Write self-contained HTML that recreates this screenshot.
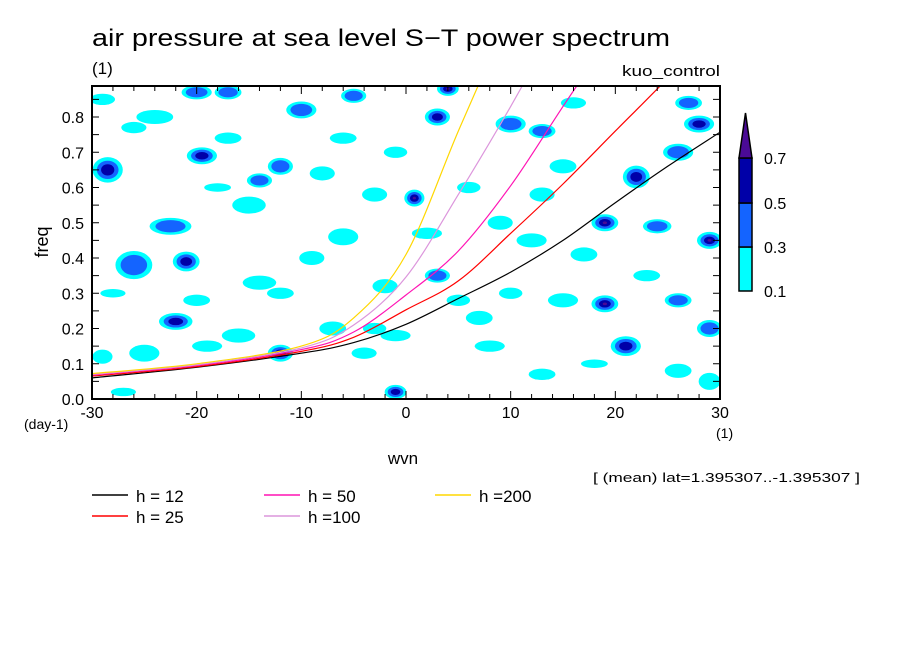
<!DOCTYPE html>
<html><head><meta charset="utf-8"><style>
body{margin:0;background:#fff;}
svg{display:block;font-family:"Liberation Sans",sans-serif;}
</style></head><body>
<svg id="chart" width="904" height="654" viewBox="0 0 904 654">
<rect x="0" y="0" width="904" height="654" fill="#fff"/>
<text x="92" y="46" font-size="24" textLength="578" lengthAdjust="spacingAndGlyphs">air pressure at sea level S−T power spectrum</text>
<text x="92" y="74" font-size="17">(1)</text>
<text x="720" y="76" font-size="15" text-anchor="end" textLength="98" lengthAdjust="spacingAndGlyphs">kuo_control</text>
<defs><clipPath id="pc"><rect x="92" y="86" width="628" height="313"/></clipPath></defs>
<g id="blobs" clip-path="url(#pc)"></g>
<g id="curves" clip-path="url(#pc)"></g>
<rect x="92" y="86" width="628" height="313" fill="none" stroke="#000" stroke-width="2"/>
<g id="axes"></g>
<text transform="translate(48,242) rotate(-90)" font-size="18" text-anchor="middle">freq</text>
<text x="403" y="464" font-size="17" text-anchor="middle">wvn</text>
<text x="24" y="429" font-size="14">(day-1)</text>
<text x="716" y="438" font-size="14">(1)</text>
<text x="593" y="482" font-size="13" textLength="267" lengthAdjust="spacingAndGlyphs">[ (mean) lat=1.395307..-1.395307 ]</text>
<g id="colorbar"></g>
<g id="legend"></g>
</svg>
<script>
const xTicks=[-30,-20,-10,0,10,20,30];
const yTicks=[0,0.1,0.2,0.3,0.4,0.5,0.6,0.7,0.8];
const levels=[0.1,0.3,0.5,0.7];
const levelColors=['#00ffff','#1464ff','#0000a8','#4a0a96'];
const curveWvn=[-30,-20,-10,-5,0,5,10,15,20,25,30];
const h12=[0.06,0.09,0.13,0.16,0.212,0.285,0.36,0.45,0.557,0.66,0.757];
const h25=[0.065,0.092,0.135,0.175,0.253,0.335,0.47,0.61,0.76,0.91,1.07];
const h50=[0.068,0.095,0.14,0.19,0.295,0.42,0.605,0.83,1.05,1.28,1.5];
const h100=[0.07,0.097,0.145,0.21,0.346,0.58,0.83,1.1,1.38,1.66,1.95];
const h200=[0.072,0.1,0.15,0.23,0.41,0.76,1.1,1.45,1.8,2.15,2.5];
const curveNames=['h = 12','h = 25','h = 50','h =100','h =200'];
const curveColors=['#000000','#ff0000','#ff14b4','#dc96dc','#ffd700'];
const blobWvn=[-28.5,-26,-21,-22.5,-19.5,-22,-17,-20,-12,-10,-12,-14,-24,-26,-15,-5,-8,-3,-6,-9,-2,-14,-16,-25,-29,-4,-7,-3,0.8,-1,3,4,2,3,7,10,13,13,15,8,12,9,5,22,26,28,27,19,24,29,19,26,21,29,17,13,15,23,26,29,-1,-12,-19,-28,-27,-20,16,-1,-17,-6,-29,-18,6,18,10];
const blobFreq=[0.65,0.38,0.39,0.49,0.69,0.22,0.87,0.87,0.66,0.82,0.13,0.62,0.80,0.77,0.55,0.86,0.64,0.58,0.46,0.40,0.32,0.33,0.18,0.13,0.12,0.13,0.20,0.20,0.57,0.02,0.80,0.88,0.47,0.35,0.23,0.78,0.76,0.58,0.66,0.15,0.45,0.50,0.28,0.63,0.70,0.78,0.84,0.50,0.49,0.45,0.27,0.28,0.15,0.20,0.41,0.07,0.28,0.35,0.08,0.05,0.18,0.30,0.15,0.30,0.02,0.28,0.84,0.70,0.74,0.74,0.85,0.60,0.60,0.10,0.30];
const blobRw=[1.8,2.2,1.6,2.5,1.8,2.0,1.6,1.8,1.5,1.8,1.5,1.5,2.2,1.5,2.0,1.5,1.5,1.5,1.8,1.5,1.5,2.0,2.0,1.8,1.2,1.5,1.6,1.4,1.2,1.3,1.5,1.3,1.8,1.5,1.6,1.8,1.6,1.5,1.6,1.8,1.8,1.5,1.4,1.6,1.8,1.8,1.6,1.6,1.7,1.5,1.6,1.6,1.8,1.5,1.6,1.6,1.8,1.6,1.6,1.3,1.8,1.6,1.8,1.5,1.5,1.6,1.5,1.4,1.6,1.6,1.5,1.6,1.4,1.6,1.4];
const blobRf=[0.045,0.05,0.035,0.03,0.03,0.03,0.025,0.025,0.03,0.03,0.03,0.025,0.025,0.02,0.03,0.025,0.025,0.025,0.03,0.025,0.025,0.025,0.025,0.03,0.025,0.02,0.025,0.02,0.03,0.025,0.03,0.025,0.02,0.025,0.025,0.03,0.025,0.025,0.025,0.02,0.025,0.025,0.02,0.04,0.03,0.03,0.025,0.03,0.025,0.03,0.03,0.025,0.035,0.03,0.025,0.02,0.025,0.02,0.025,0.03,0.02,0.02,0.02,0.015,0.015,0.02,0.02,0.02,0.02,0.02,0.02,0.015,0.02,0.015,0.02];
const blobLvl=[2,1,2,1,2,2,1,1,1,1,3,1,0,0,0,1,0,0,0,0,0,0,0,0,0,0,0,0,3,2,2,3,0,1,0,1,1,0,0,0,0,0,0,2,1,2,1,3,1,3,3,1,2,1,0,0,0,0,0,0,0,0,0,0,0,0,0,0,0,0,0,0,0,0,0];

const X0=92,X1=720,Y0=399,PY=352.5;
const sx=v=>X0+(v+30)*(X1-X0)/60;
const sy=v=>Y0-v*PY;
const ns='http://www.w3.org/2000/svg';
function mk(tag,parent,attrs){const e=document.createElementNS(ns,tag);for(const k in attrs)e.setAttribute(k,attrs[k]);parent.appendChild(e);return e;}

const blobs=document.getElementById('blobs');
for(let i=0;i<blobWvn.length;i++){
  for(let l=0;l<=blobLvl[i];l++){
    const f=(1-l*0.28)*0.8;
    const e=mk('ellipse',blobs,{cx:sx(blobWvn[i]),cy:sy(blobFreq[i]),rx:blobRw[i]*10.47*f,ry:blobRf[i]*PY*f,fill:levelColors[l]});
    
    
  }
}
function spline(pts){
  let d='M'+pts[0][0].toFixed(1)+','+pts[0][1].toFixed(1);
  for(let i=0;i<pts.length-1;i++){
    const p0=pts[Math.max(0,i-1)],p1=pts[i],p2=pts[i+1],p3=pts[Math.min(pts.length-1,i+2)];
    const c1=[p1[0]+(p2[0]-p0[0])/6,p1[1]+(p2[1]-p0[1])/6];
    const c2=[p2[0]-(p3[0]-p1[0])/6,p2[1]-(p3[1]-p1[1])/6];
    d+=' C'+c1.map(v=>v.toFixed(1)).join(',')+' '+c2.map(v=>v.toFixed(1)).join(',')+' '+p2[0].toFixed(1)+','+p2[1].toFixed(1);
  }
  return d;
}
const curves=document.getElementById('curves');
const series=[h12,h25,h50,h100,h200];
series.forEach((s,k)=>{
  const pts=s.map((v,i)=>[sx(curveWvn[i]),sy(v)]);
  const p=mk('path',curves,{d:spline(pts),fill:'none',stroke:curveColors[k],'stroke-width':1.2});
  
  
});
const axes=document.getElementById('axes');
xTicks.forEach(v=>{
  const t=mk('text',axes,{x:sx(v),y:418,'font-size':16,'text-anchor':'middle'});t.textContent=v;
  
  
});
for(let v=-30;v<=30;v+=2){
  mk('line',axes,{x1:sx(v),x2:sx(v),y1:Y0,y2:Y0-(v%10==0?8:5),stroke:'#000'});
  mk('line',axes,{x1:sx(v),x2:sx(v),y1:86,y2:86+(v%10==0?8:5),stroke:'#000'});
}
yTicks.forEach(v=>{
  const t=mk('text',axes,{x:84,y:sy(v)+6,'font-size':16,'text-anchor':'end'});t.textContent=v.toFixed(1);
  
  
});
for(let v=0;v<=0.88;v+=0.05){
  mk('line',axes,{x1:X0,x2:X0+7,y1:sy(v),y2:sy(v),stroke:'#000'});
  mk('line',axes,{x1:X1,x2:X1-7,y1:sy(v),y2:sy(v),stroke:'#000'});
}
const cb=document.getElementById('colorbar');
const cbY=[291,247,203,158];
for(let i=0;i<3;i++){
  const r=mk('rect',cb,{x:739,y:cbY[i+1],width:13,height:cbY[i]-cbY[i+1],fill:levelColors[i],stroke:'#000','stroke-width':1.5});
  
  
}
const tri=mk('polygon',cb,{points:'739,158 752,158 745.5,113',fill:levelColors[3],stroke:'#000','stroke-width':1.5});


levels.forEach((v,i)=>{
  const t=mk('text',cb,{x:764,y:cbY[i]+6,'font-size':16});t.textContent=v;
  
  
});
const lg=document.getElementById('legend');
const lx=[92,92,264,264,435],ly=[495,516,495,516,495];
curveNames.forEach((n,k)=>{
  mk('line',lg,{x1:lx[k],x2:lx[k]+36,y1:ly[k],y2:ly[k],stroke:curveColors[k],'stroke-width':1.6});
  const t=mk('text',lg,{x:lx[k]+44,y:ly[k]+7,'font-size':17});t.textContent=n;
  
  
});
</script>
</body></html>
